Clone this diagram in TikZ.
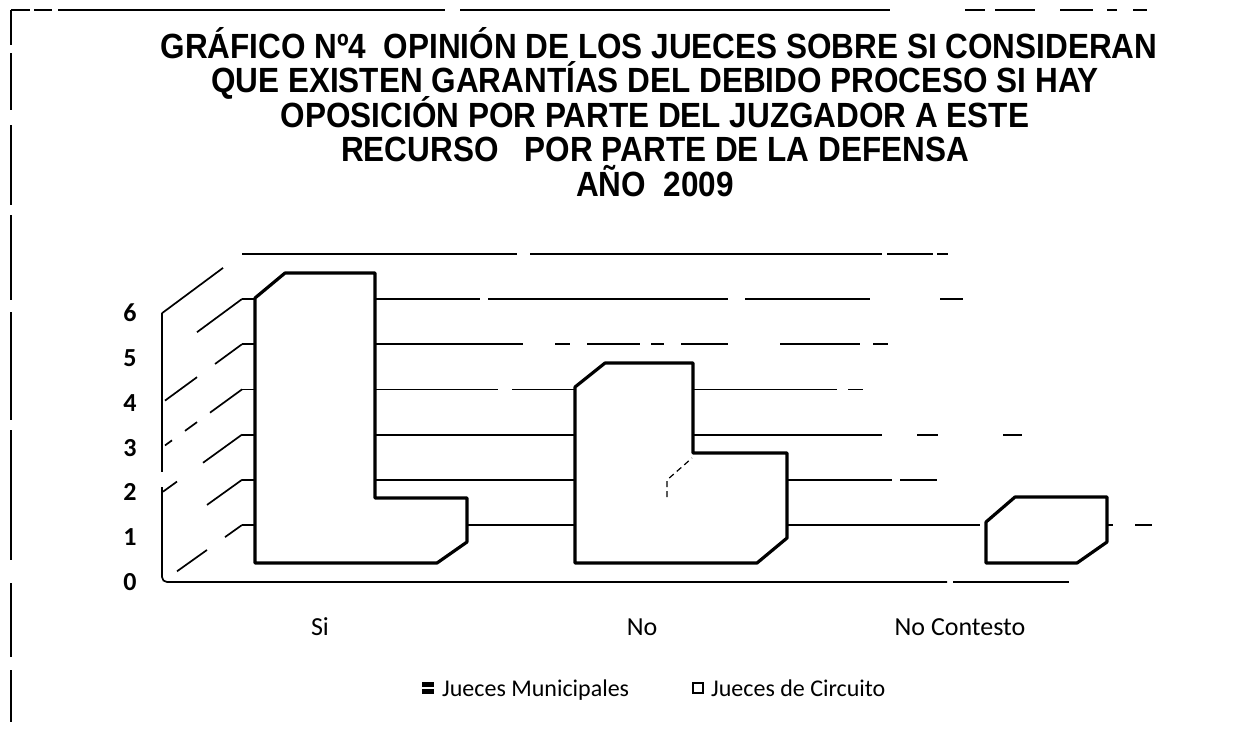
\documentclass[tikz,border=0pt]{standalone}
\usepackage{fontspec}
\setmainfont{Liberation Sans}
\newfontfamily\titlefont[FakeStretch=0.9]{Liberation Sans}
\newfontfamily\calibri{Carlito}
\usetikzlibrary{calc}

\tikzset{
  frameline/.style={line width=1.3pt},
  wall/.style={line width=1.7pt},
  gridline/.style={line width=1.8pt},
  barshape/.style={draw, fill=white, line width=3.2pt, line join=round},
  ticklab/.style={font=\calibri\bfseries\fontsize{26}{26}\selectfont},
  catlab/.style={font=\calibri\fontsize{26}{26}\selectfont, anchor=base},
  legtext/.style={font=\calibri\fontsize{24}{24}\selectfont, anchor=base west, inner sep=0pt},
  legkey/.style={draw, line width=2pt, minimum size=10pt, inner sep=0pt},
  titleline/.style={font=\titlefont\bfseries\fontsize{35}{35}\selectfont, anchor=base, inner sep=0pt}
}

\begin{document}
\begin{tikzpicture}[x=1pt,y=-1pt]
\useasboundingbox (0,0) rectangle (1233,729);

% broken frame of the scan
\foreach \ya/\yb in {10/45, 53/110, 125/205, 215/300, 312/420, 430/560, 583/657, 670/722}
  \draw[frameline] (11,\ya) -- (11,\yb);
\foreach \xa/\xb in {11/30, 34/52, 58/445, 460/890, 965/985, 995/1035, 1060/1093, 1107/1117, 1133/1147}
  \draw[frameline] (\xa,10) -- (\xb,10);

% title
\node[titleline] (title1) at (659,58) {GRÁFICO Nº4\ \ OPINIÓN DE LOS JUECES SOBRE SI CONSIDERAN};
\node[titleline] (title2) at (655,92.5) {QUE EXISTEN GARANTÍAS DEL DEBIDO PROCESO SI HAY};
\node[titleline] (title3) at (655,127) {OPOSICIÓN POR PARTE DEL JUZGADOR A ESTE};
\node[titleline] (title4) at (655,161.5) {RECURSO\ \ \ POR PARTE DE LA DEFENSA};
\node[titleline] (title5) at (655,196) {AÑO\ \ 2009};

% side wall: front and back ends of each level
\foreach \k in {0,...,6} {
  \coordinate (f\k) at (162,{582-44.8*\k});
  \coordinate (b\k) at (242,{525-45.2*\k});
}
\foreach \k/\xa/\xb in {0/177/207, 0/225/242, 1/207/242, 2/163/177, 2/203/242,
    3/165/172, 3/185/197, 3/210/242, 4/165/197, 4/215/242, 5/197/242, 6/162/223}
  \draw[wall] ($(f\k)!{(\xa-162)/80}!(b\k)$) -- ($(f\k)!{(\xb-162)/80}!(b\k)$);

% back wall gridlines
\foreach \k/\xa/\xb in {6/242/517, 6/530/882, 6/887/933, 6/937/948,
    5/242/480, 5/488/728, 5/745/870, 5/940/963,
    4/242/523, 4/555/570, 4/587/640, 4/651/664, 4/681/728, 4/780/860, 4/873/888,
    3/242/498, 3/512/837, 3/848/863,
    2/242/882, 2/917/938, 2/1003/1022,
    1/242/892, 1/900/937,
    0/242/980, 0/1107/1113, 0/1135/1152}
  \draw[gridline] (\xa,{525-45.2*\k}) -- (\xb,{525-45.2*\k});

% front axis and floor
\draw[wall] (f6) -- (162,472);
\draw[wall, rounded corners=5pt] (162,487) -- (f0) -- (947,582);
\draw[wall] (953,582) -- (1069,582);

% bars (Si, No, No Contesto)
\draw[barshape] (255,563) -- (255,298) -- (285,273) -- (375,273) -- (375,498)
  -- (467,498) -- (467,542) -- (437,563) -- cycle;
\draw[barshape] (575,563) -- (575,387) -- (605,363) -- (693,363) -- (693,453)
  -- (787,453) -- (787,538) -- (757,563) -- cycle;
\draw[line width=1.2pt, dash pattern=on 6pt off 4pt] (667,497) -- (667,480) -- (692,458);
\draw[barshape] (986,563) -- (986,522) -- (1015,497) -- (1107,497) -- (1107,542)
  -- (1077,563) -- cycle;

% value axis
\foreach \k in {0,...,6}
  \node[ticklab] (tick\k) at (130,{582-44.8*\k}) {\k};

% categories
\node[catlab] (catsi) at (320,635) {Si};
\node[catlab] (catno) at (642,635) {No};
\node[catlab] (catnc) at (960,635) {No Contesto};

% legend
\node[legkey, fill=black] (keymun) at (428,688) {};
\draw[white, line width=1.5pt] (keymun.west) -- (keymun.east);
\node[legtext] (txtmun) at (442,696) {Jueces Municipales};
\node[legkey, fill=white] (keycir) at (698,688) {};
\node[legtext] (txtcir) at (711,696) {Jueces de Circuito};
\end{tikzpicture}
\end{document}
